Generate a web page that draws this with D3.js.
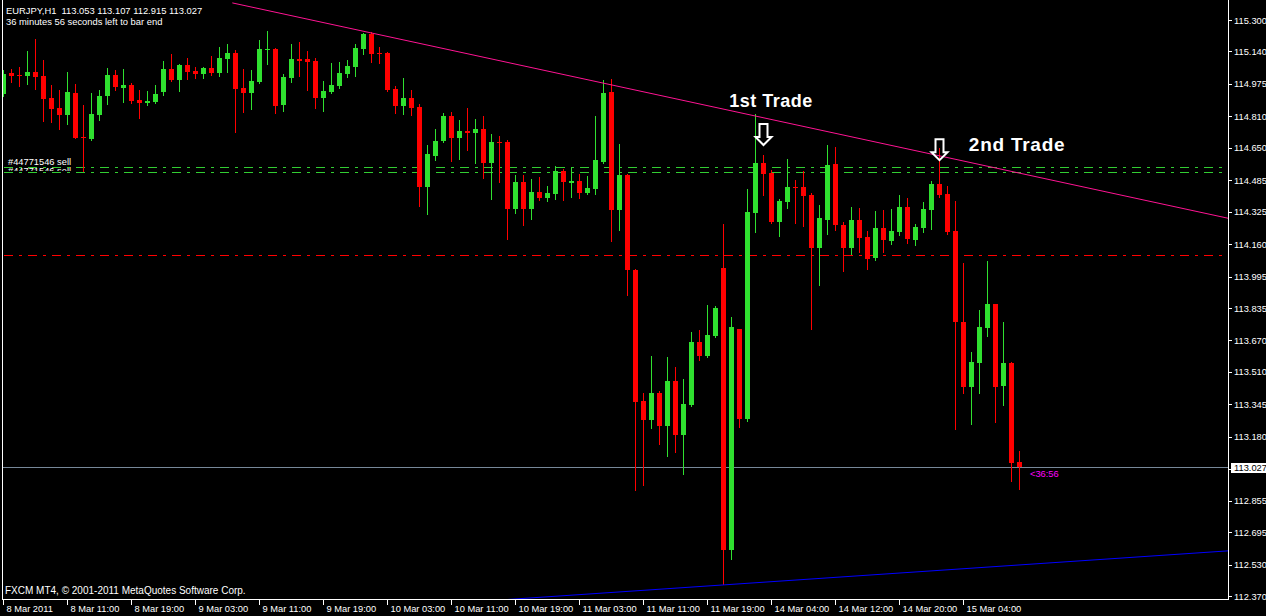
<!DOCTYPE html>
<html><head><meta charset="utf-8">
<script src="https://cdn.jsdelivr.net/npm/d3@7"></script>
<style>
html,body{margin:0;padding:0;background:#000;overflow:hidden}
svg{display:block}
text{font-family:"Liberation Sans",Arial,sans-serif}
</style></head><body>
<svg id="chart" width="1266" height="616"></svg>
<script>
// ---- data (EURJPY H1) ----
const opens = [114.924,115.029,115.022,115.017,115.036,115.015,114.904,114.853,114.819,114.931,
114.705,114.695,114.817,114.914,115.021,114.956,114.970,114.893,114.878,114.883,
114.934,115.051,114.995,115.071,115.041,115.026,115.056,115.031,115.102,115.132,
114.954,114.929,114.985,115.148,115.153,114.868,115.005,115.102,115.102,115.092,
114.904,114.934,114.965,115.026,115.061,115.153,115.229,115.132,115.132,114.949,
114.863,114.904,114.858,114.451,114.609,114.685,114.812,114.700,114.736,114.726,
114.746,114.573,114.680,114.680,114.339,114.476,114.339,114.425,114.395,114.415,
114.532,114.471,114.481,114.420,114.441,114.578,114.934,114.334,114.512,114.029,
113.362,113.266,113.403,113.235,113.464,113.189,113.342,113.662,113.591,113.693,
114.039,112.604,113.729,113.271,114.319,114.573,114.522,114.273,114.375,114.451,
114.451,114.410,114.141,114.283,114.568,114.258,114.141,114.283,114.197,114.090,
114.242,114.176,114.222,114.349,114.181,114.242,114.334,114.466,114.415,114.227,
113.764,113.434,113.556,113.734,113.856,113.439,113.556,113.053];
const highs = [115.046,115.051,115.061,115.143,115.204,115.097,114.970,114.944,115.036,114.975,
114.868,114.931,114.944,115.058,115.046,115.051,114.981,114.944,114.939,114.970,
115.092,115.127,115.076,115.107,115.061,115.061,115.117,115.163,115.178,115.148,
115.051,115.046,115.199,115.244,115.158,115.026,115.178,115.188,115.143,115.107,
114.990,115.082,115.087,115.097,115.178,115.234,115.239,115.163,115.138,114.965,
115.005,114.944,114.873,114.665,114.746,114.827,114.832,114.792,114.853,114.797,
114.812,114.720,114.710,114.690,114.512,114.512,114.492,114.502,114.456,114.558,
114.542,114.553,114.517,114.507,114.812,114.995,115.000,114.670,114.517,114.034,
113.403,113.591,113.413,113.586,113.535,113.474,113.713,113.724,113.851,113.846,
114.263,113.790,113.729,114.441,114.822,114.614,114.537,114.390,114.593,114.486,
114.532,114.420,114.359,114.665,114.654,114.273,114.349,114.344,114.227,114.329,
114.334,114.339,114.410,114.395,114.263,114.375,114.481,114.649,114.456,114.380,
114.064,113.612,113.825,114.074,113.856,113.764,113.561,113.107];
const lows = [114.914,114.983,114.966,114.975,114.949,114.788,114.783,114.746,114.773,114.700,
114.534,114.690,114.792,114.873,114.944,114.885,114.880,114.803,114.869,114.878,
114.919,114.990,114.939,115.000,115.005,115.005,115.021,115.015,115.036,114.731,
114.832,114.848,114.980,115.076,114.827,114.837,114.985,115.015,114.944,114.853,
114.837,114.929,114.954,115.010,115.015,115.127,115.087,115.082,114.939,114.827,
114.822,114.817,114.354,114.314,114.588,114.680,114.583,114.593,114.639,114.573,
114.497,114.390,114.476,114.186,114.319,114.258,114.288,114.385,114.380,114.390,
114.385,114.400,114.395,114.415,114.415,114.573,114.176,114.232,113.902,112.910,
112.935,113.225,113.144,113.083,113.103,112.991,113.337,113.571,113.586,113.688,
112.432,112.559,113.230,113.261,114.222,114.410,114.268,114.202,114.344,114.268,
114.252,113.729,113.952,114.212,114.232,114.024,114.110,114.120,114.034,114.080,
114.120,114.161,114.207,114.166,114.156,114.222,114.237,114.400,114.212,113.220,
113.403,113.245,113.403,113.693,113.256,113.342,112.955,112.915];
const closes = [115.026,115.017,115.018,115.036,115.012,114.900,114.849,114.817,114.936,114.702,
114.699,114.822,114.914,115.021,114.960,114.970,114.888,114.880,114.888,114.924,
115.051,114.995,115.071,115.037,115.026,115.056,115.031,115.107,115.132,114.949,
114.929,114.990,115.153,115.153,114.863,115.010,115.102,115.092,115.087,114.904,
114.939,114.970,115.031,115.066,115.158,115.229,115.127,115.127,114.944,114.863,
114.904,114.853,114.451,114.619,114.685,114.812,114.700,114.736,114.726,114.746,
114.573,114.680,114.675,114.339,114.476,114.339,114.425,114.395,114.420,114.532,
114.476,114.481,114.420,114.446,114.588,114.929,114.334,114.512,114.029,113.357,
113.266,113.403,113.235,113.464,113.189,113.347,113.662,113.591,113.698,113.835,
112.604,113.739,113.271,114.324,114.573,114.517,114.273,114.380,114.451,114.446,
114.405,114.141,114.293,114.563,114.258,114.141,114.283,114.191,114.085,114.242,
114.181,114.227,114.349,114.186,114.247,114.339,114.466,114.410,114.222,113.764,
113.434,113.561,113.739,113.856,113.434,113.556,113.047,113.027];

const timeLabels = ["8 Mar 2011","8 Mar 11:00","8 Mar 19:00","9 Mar 03:00","9 Mar 11:00","9 Mar 19:00",
"10 Mar 03:00","10 Mar 11:00","10 Mar 19:00","11 Mar 03:00","11 Mar 11:00","11 Mar 19:00",
"14 Mar 04:00","14 Mar 12:00","14 Mar 20:00","15 Mar 04:00"];
const timeLabelBars = [0,8,16,24,32,40,48,56,64,72,80,88,96,104,112,120];
const priceTicks = ["115.300","115.140","114.975","114.810","114.650","114.485","114.325","114.160",
"113.995","113.835","113.670","113.510","113.345","113.180","113.015","112.855","112.695","112.530","112.370"];

const orderLevels = [114.553, 114.527];
const stopLevels = [114.105];
const bidPrice = 113.027;
const pinkTrend = [{i:28.6, p:115.387}, {i:117, p:114.609}];
const blueTrend = [{i:64, p:112.355}, {i:127, p:112.528}];
const arrowMarks = [{i:95, p:114.776}, {i:117, p:114.699}];
const notes = [{text:"1st Trade", i:95.94, p:114.891, size:18, ls:0.5},
               {text:"2nd Trade", i:126.7, p:114.665, size:19, ls:0.75}];
const headerLine1 = "EURJPY,H1  113.053 113.107 112.915 113.027";
const headerLine2 = "36 minutes 56 seconds left to bar end";
const footer = "FXCM MT4, \u00A9 2001-2011 MetaQuotes Software Corp.";
const orderLabel = "#44771546 sell";
const timerLabel = "<36:56";

// ---- drawing ----
const W = 1266, H = 616;
const svg = d3.select("#chart");
const x = d3.scaleLinear().domain([0, 127]).range([3.5, 1019.5]);
const y = d3.scaleLinear().domain([112.370, 115.300]).range([596, 20]);
const snap = v => Math.round(v) + 0.5;
const GREEN = "#2fe02f", RED = "#ff0000", FS = "9.3px";

svg.append("rect").attr("width", W).attr("height", H).attr("fill", "#000");
const defs = svg.append("defs");
defs.append("clipPath").attr("id", "plotClip").append("rect")
  .attr("x", 3).attr("y", 0).attr("width", 1225).attr("height", 599);
defs.append("clipPath").attr("id", "lblClip").append("rect")
  .attr("x", 0).attr("y", 165.5).attr("width", 200).attr("height", 5.5);

const g = svg.append("g").attr("clip-path", "url(#plotClip)");

// order label (hidden duplicate underneath)
g.append("text").attr("clip-path", "url(#lblClip)").attr("x", 8).attr("y", 174)
  .attr("fill", "#fff").style("font-size", FS).text(orderLabel);

// dash-dot horizontal levels
const levels = orderLevels.map(p => ({p, c: "#32cd32"})).concat(stopLevels.map(p => ({p, c: "#ff0000"})));
g.selectAll("line.lvl").data(levels).join("line").attr("class", "lvl")
  .attr("x1", 3).attr("x2", 1228)
  .attr("y1", d => snap(y(d.p))).attr("y2", d => snap(y(d.p)))
  .attr("stroke", d => d.c).attr("stroke-width", 1).attr("shape-rendering", "crispEdges")
  .attr("stroke-dasharray", "9,6,3,6").attr("stroke-dashoffset", 23);

// bid line
g.append("line").attr("x1", 3).attr("x2", 1228)
  .attr("y1", snap(y(bidPrice))).attr("y2", snap(y(bidPrice)))
  .attr("stroke", "#778899").attr("stroke-width", 1).attr("shape-rendering", "crispEdges");

// candles
const bars = opens.map((o, k) => ({k, o, h: highs[k], l: lows[k], c: closes[k]}));
const cg = g.append("g").attr("shape-rendering", "crispEdges");
cg.selectAll("line.wick").data(bars).join("line").attr("class", "wick")
  .attr("x1", d => x(d.k)).attr("x2", d => x(d.k))
  .attr("y1", d => Math.round(y(d.h))).attr("y2", d => Math.round(y(d.l)) + 1)
  .attr("stroke", d => d.c >= d.o ? GREEN : RED).attr("stroke-width", 1);
cg.selectAll("rect.body").data(bars).join("rect").attr("class", "body")
  .attr("x", d => x(d.k) - 2.5).attr("width", 5)
  .attr("y", d => Math.round(y(Math.max(d.o, d.c))))
  .attr("height", d => Math.max(1, Math.round(y(Math.min(d.o, d.c))) - Math.round(y(Math.max(d.o, d.c)))))
  .attr("fill", d => d.c >= d.o ? GREEN : RED);

// order label
g.append("text").attr("x", 8).attr("y", 164.5).attr("fill", "#fff").style("font-size", FS).text(orderLabel);

// trend lines
function ray(pts, leftExtend) {
  const s = (pts[1].p - pts[0].p) / (pts[1].i - pts[0].i);
  const i0 = leftExtend ? -5 : pts[0].i, i1 = 160;
  return [[x(i0), y(pts[0].p + s * (i0 - pts[0].i))], [x(i1), y(pts[0].p + s * (i1 - pts[0].i))]];
}
g.append("path").attr("d", d3.line()(ray(pinkTrend, false)))
  .attr("stroke", "#ff1493").attr("stroke-width", 1).attr("fill", "none");
g.append("path").attr("d", d3.line()(ray(blueTrend, true)))
  .attr("stroke", "#0000ff").attr("stroke-width", 1).attr("fill", "none");

// arrows
const arrowShape = [[-4,1],[4,1],[4,14],[8,14],[0,22],[-8,14],[-4,14]];
g.selectAll("path.arr").data(arrowMarks).join("path").attr("class", "arr")
  .attr("d", d => d3.line()(arrowShape.map(([dx, dy]) => [x(d.i) + dx, y(d.p) + dy])) + "Z")
  .attr("fill", "none").attr("stroke", "#fff").attr("stroke-width", 2).attr("stroke-linejoin", "miter");

// notes
g.selectAll("text.note").data(notes).join("text").attr("class", "note")
  .attr("x", d => x(d.i)).attr("y", d => y(d.p) + 6.5)
  .attr("text-anchor", "middle").attr("fill", "#fff")
  .style("font-size", d => d.size + "px").style("font-weight", "bold")
  .style("letter-spacing", d => d.ls + "px").text(d => d.text);

// timer label
g.append("text").attr("x", x(127) + 10.5).attr("y", y(bidPrice) + 10.5)
  .attr("fill", "#ff00ff").style("font-size", FS).text(timerLabel);

// headers
svg.append("text").attr("x", 6).attr("y", 14).attr("fill", "#fff").style("font-size", "9.4px")
  .style("white-space", "pre").attr("xml:space", "preserve").text(headerLine1);
svg.append("text").attr("x", 6).attr("y", 24.5).attr("fill", "#fff").style("font-size", "9.4px").text(headerLine2);
svg.append("text").attr("x", 5).attr("y", 594).attr("fill", "#fff").style("font-size", "10px").text(footer);

// frame
const fr = svg.append("g").attr("shape-rendering", "crispEdges").attr("stroke", "#fff");
fr.append("line").attr("x1", 2.5).attr("x2", 2.5).attr("y1", 0).attr("y2", 600);
fr.append("line").attr("x1", 2).attr("x2", 1229).attr("y1", 599.5).attr("y2", 599.5);
fr.append("line").attr("x1", 1228.5).attr("x2", 1228.5).attr("y1", 0).attr("y2", 600);

// price axis
const pa = svg.append("g");
pa.selectAll("line").data(priceTicks).join("line")
  .attr("x1", 1229).attr("x2", 1232).attr("shape-rendering", "crispEdges")
  .attr("y1", d => snap(y(+d))).attr("y2", d => snap(y(+d))).attr("stroke", "#fff");
pa.selectAll("text").data(priceTicks).join("text")
  .attr("x", 1234).attr("y", d => y(+d) + 3.5).attr("fill", "#fff").style("font-size", FS).text(d => d);
pa.append("rect").attr("x", 1231).attr("y", Math.round(y(bidPrice)) - 4).attr("width", 35).attr("height", 10).attr("fill", "#fff");
pa.append("text").attr("x", 1234).attr("y", y(bidPrice) + 4).attr("fill", "#000").style("font-size", FS).text(bidPrice.toFixed(3));

// time axis
const ta = svg.append("g");
ta.selectAll("line").data(timeLabelBars).join("line").attr("shape-rendering", "crispEdges")
  .attr("x1", d => x(d)).attr("x2", d => x(d)).attr("y1", 600).attr("y2", 605).attr("stroke", "#fff");
ta.selectAll("text").data(timeLabelBars).join("text")
  .attr("x", d => x(d) + 3).attr("y", 611.5).attr("fill", "#fff").style("font-size", FS)
  .text((d, j) => timeLabels[j]);
</script>
</body></html>
